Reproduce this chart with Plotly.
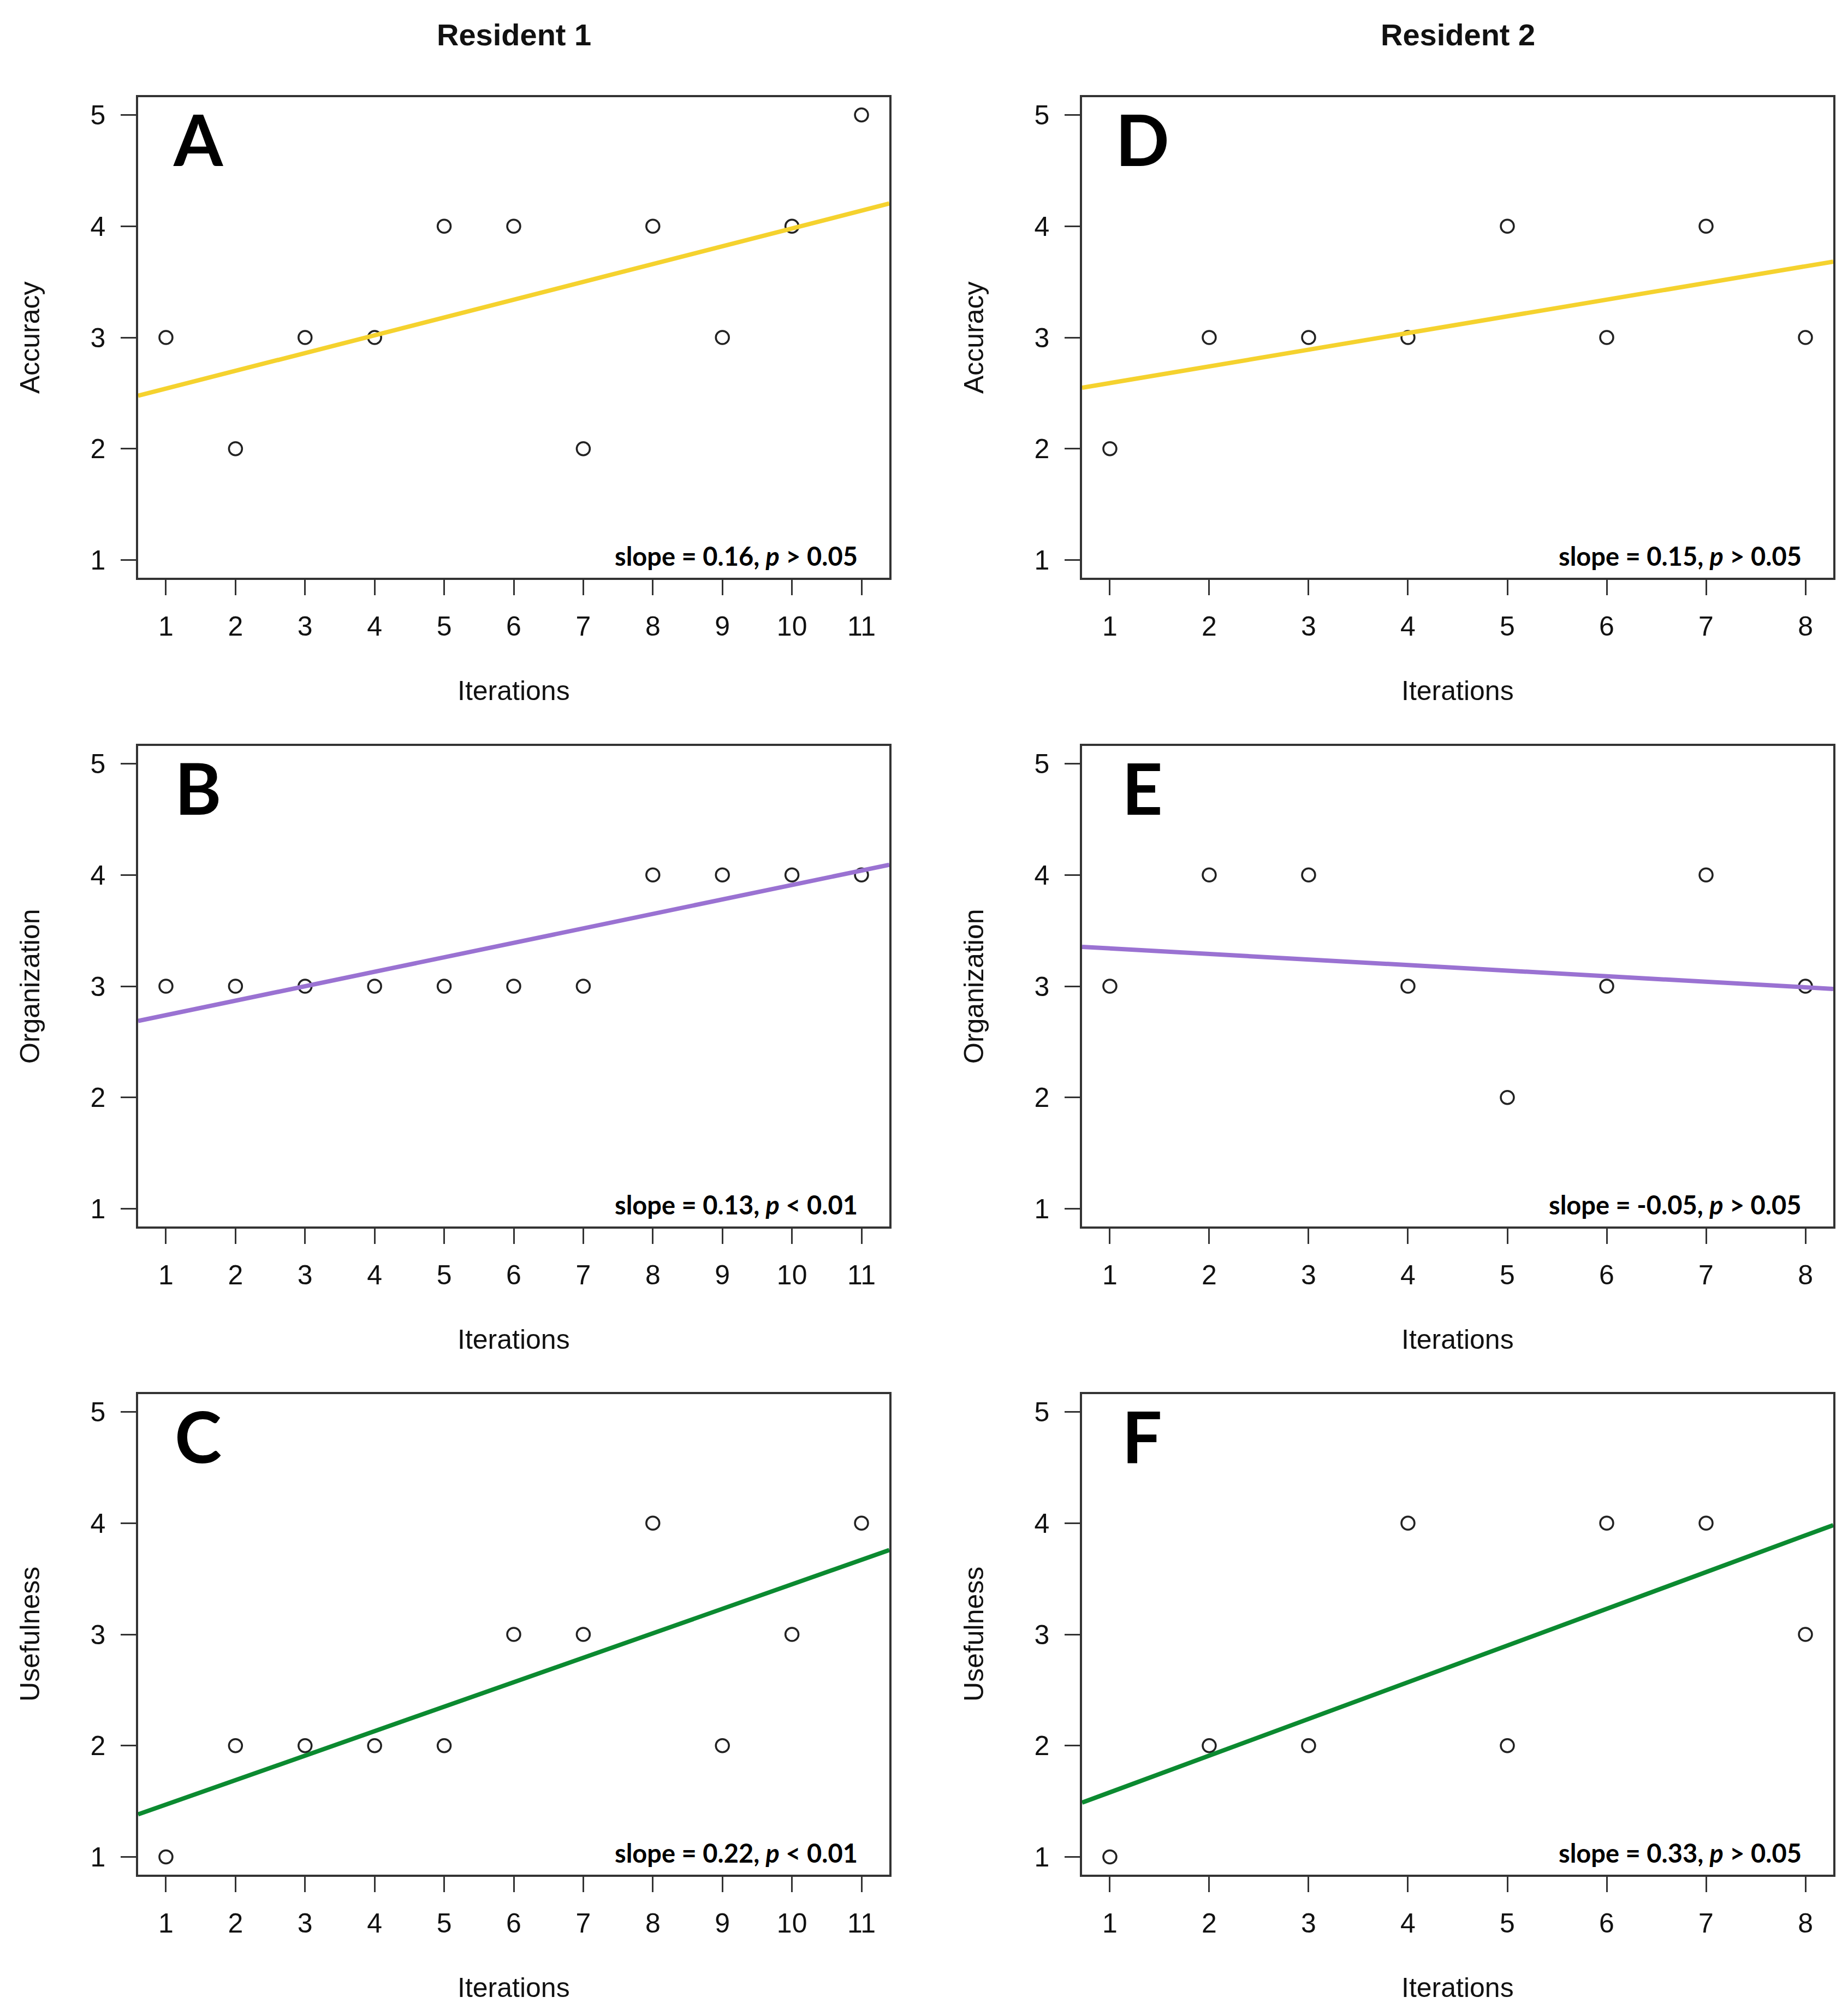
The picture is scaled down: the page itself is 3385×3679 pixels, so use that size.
import plotly.graph_objects as go

# ratings per iteration
res1_accuracy = [3, 2, 3, 3, 4, 4, 2, 4, 3, 4, 5]
res1_organization = [3, 3, 3, 3, 3, 3, 3, 4, 4, 4, 4]
res1_usefulness = [1, 2, 2, 2, 2, 3, 3, 4, 2, 3, 4]
res2_accuracy = [2, 3, 3, 3, 4, 3, 4, 3]
res2_organization = [3, 4, 4, 3, 2, 3, 4, 3]
res2_usefulness = [1, 2, 2, 4, 2, 4, 4, 3]

# fitted lines (slope from the labels, intercept)
slopes = [0.16, 0.13, 0.22, 0.15, -0.05, 0.33]
intercepts = [2.38, 2.61, 1.25, 2.44, 3.39, 1.25]
p_labels = ['p &gt; 0.05', 'p &lt; 0.01', 'p &lt; 0.01',
            'p &gt; 0.05', 'p &gt; 0.05', 'p &gt; 0.05']
panel_letters = ['A', 'B', 'C', 'D', 'E', 'F']
y_titles = ['Accuracy', 'Organization', 'Usefulness']
col_titles = ['Resident 1', 'Resident 2']
y_ticks = [1, 2, 3, 4, 5]

W, H = 3385, 3679
col_left = [245, 1974]
col_w = 1376
row_top = [170, 1358, 2545]
row_h = 880

line_colors = ['#F5D22E', '#9A72D2', '#0B8A30']
FONT = 'Liberation Sans'

panels = [
    (0, 0, res1_accuracy), (0, 1, res1_organization), (0, 2, res1_usefulness),
    (1, 0, res2_accuracy), (1, 1, res2_organization), (1, 2, res2_usefulness),
]


def px_x(v):
    return v / W


def px_y(v):
    return 1 - v / H


fig = go.Figure()
annotations = []

for i, (col, row, vals) in enumerate(panels):
    n = len(vals)
    xs = list(range(1, n + 1))
    span = n - 1
    xr = [1 - 0.04 * span, n + 0.04 * span]
    yr = [1 - 0.04 * 4, 5 + 0.04 * 4]
    k = i + 1
    xa = 'x' if k == 1 else f'x{k}'
    ya = 'y' if k == 1 else f'y{k}'

    fig.add_trace(go.Scatter(
        x=xs, y=vals, mode='markers', xaxis=xa, yaxis=ya,
        marker=dict(symbol='circle-open', size=24, color='#222222',
                    line=dict(width=3.5, color='#222222')),
        showlegend=False, hoverinfo='x+y'))

    fig.add_trace(go.Scatter(
        x=xr, y=[intercepts[i] + slopes[i] * xv for xv in xr],
        mode='lines', xaxis=xa, yaxis=ya,
        line=dict(color=line_colors[row], width=8),
        showlegend=False, hoverinfo='skip'))

    x0 = col_left[col]
    y0 = row_top[row]
    axis_common = dict(
        showline=True, mirror=True, linecolor='#333333', linewidth=3.5,
        ticks='outside', ticklen=28, tickwidth=3, tickcolor='#333333',
        showgrid=False, zeroline=False,
        tickfont=dict(family=FONT, size=50, color='#111111'),
    )
    fig.update_layout(**{
        ('xaxis' if k == 1 else f'xaxis{k}'): dict(
            axis_common, domain=[px_x(x0), px_x(x0 + col_w)], range=xr,
            tickvals=xs, anchor=ya, ticklabelstandoff=14),
        ('yaxis' if k == 1 else f'yaxis{k}'): dict(
            axis_common, domain=[px_y(y0 + row_h), px_y(y0)], range=yr,
            tickvals=y_ticks, anchor=xa, ticklabelstandoff=18),
    })

    # panel letter
    annotations.append(dict(
        text=f'<b>{panel_letters[i]}</b>', xref=f'{xa} domain', yref=f'{ya} domain',
        x=110 / col_w, y=1 - 76 / row_h, xanchor='center', yanchor='middle',
        showarrow=False, font=dict(family='Lato', size=130, color='black')))
    # slope label
    annotations.append(dict(
        text=f'<b>slope = {slopes[i]:.2f}, <i>{p_labels[i][0]}</i>{p_labels[i][1:]}</b>',
        xref=f'{xa} domain', yref=f'{ya} domain',
        x=1 - 56 / col_w, y=40 / row_h, xanchor='right', yanchor='middle',
        showarrow=False, font=dict(family='Lato', size=47, color='black')))
    # x title
    annotations.append(dict(
        text='Iterations', xref='paper', yref='paper',
        x=px_x(x0 + col_w / 2), y=px_y(y0 + row_h + 207),
        xanchor='center', yanchor='middle', showarrow=False,
        font=dict(family=FONT, size=50, color='#111111')))
    # y title
    annotations.append(dict(
        text=y_titles[row], xref='paper', yref='paper', textangle=-90,
        x=px_x(x0 - 198), y=px_y(y0 + row_h / 2),
        xanchor='center', yanchor='middle', showarrow=False,
        font=dict(family=FONT, size=50, color='#111111')))

for col in range(2):
    annotations.append(dict(
        text=f'<b>{col_titles[col]}</b>', xref='paper', yref='paper',
        x=px_x(col_left[col] + col_w / 2), y=px_y(56),
        xanchor='center', yanchor='middle', showarrow=False,
        font=dict(family=FONT, size=56, color='#111111')))

fig.update_layout(
    width=W, height=H,
    margin=dict(l=0, r=0, t=0, b=0),
    plot_bgcolor='white', paper_bgcolor='white',
    annotations=annotations,
)

fig.write_html('out.html')
